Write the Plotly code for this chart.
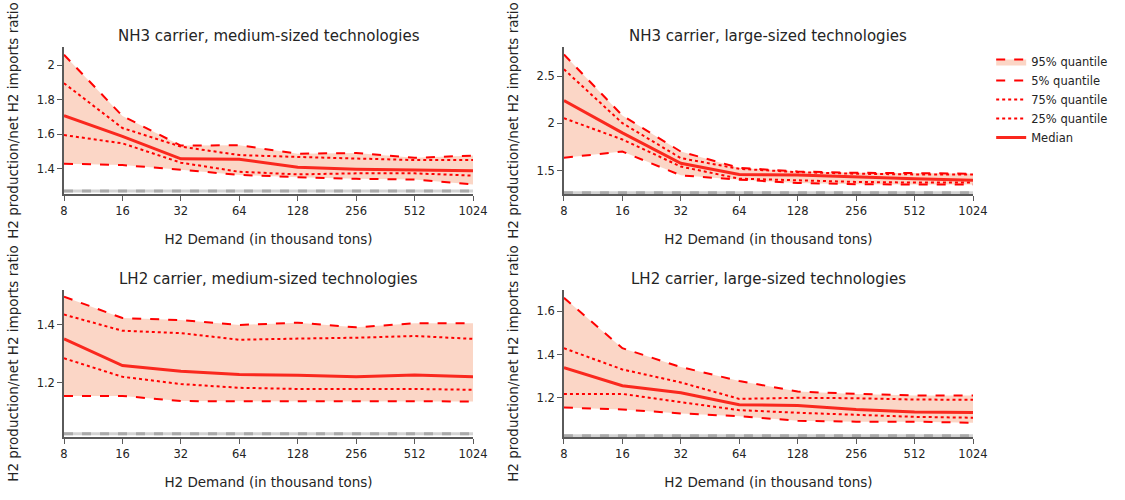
import plotly.graph_objects as go
from plotly.subplots import make_subplots

demand = [8, 16, 32, 64, 128, 256, 512, 1024]
tick_labels = ["8", "16", "32", "64", "128", "256", "512", "1024"]

titles = [
    "NH3 carrier, medium-sized technologies",
    "NH3 carrier, large-sized technologies",
    "LH2 carrier, medium-sized technologies",
    "LH2 carrier, large-sized technologies",
]

# NH3 medium
nh3_med_q95 = [2.06, 1.705, 1.533, 1.535, 1.486, 1.49, 1.462, 1.475]
nh3_med_q75 = [1.895, 1.635, 1.527, 1.478, 1.467, 1.456, 1.449, 1.449]
nh3_med_q50 = [1.707, 1.587, 1.456, 1.454, 1.407, 1.396, 1.391, 1.387]
nh3_med_q25 = [1.594, 1.546, 1.434, 1.381, 1.366, 1.372, 1.372, 1.359]
nh3_med_q05 = [1.428, 1.42, 1.393, 1.363, 1.35, 1.34, 1.336, 1.308]

# NH3 large
nh3_lrg_q95 = [2.728, 2.083, 1.703, 1.531, 1.493, 1.479, 1.476, 1.469]
nh3_lrg_q75 = [2.572, 2.003, 1.634, 1.521, 1.486, 1.469, 1.462, 1.462]
nh3_lrg_q50 = [2.241, 1.9, 1.579, 1.462, 1.455, 1.434, 1.417, 1.4]
nh3_lrg_q25 = [2.055, 1.831, 1.545, 1.417, 1.4, 1.383, 1.376, 1.376]
nh3_lrg_q05 = [1.638, 1.703, 1.452, 1.407, 1.372, 1.359, 1.355, 1.355]

# LH2 medium
lh2_med_q95 = [1.498, 1.424, 1.417, 1.4, 1.408, 1.392, 1.406, 1.406]
lh2_med_q75 = [1.436, 1.38, 1.372, 1.349, 1.353, 1.356, 1.362, 1.352]
lh2_med_q50 = [1.352, 1.26, 1.24, 1.229, 1.226, 1.221, 1.227, 1.221]
lh2_med_q25 = [1.285, 1.221, 1.196, 1.183, 1.179, 1.18, 1.179, 1.176]
lh2_med_q05 = [1.155, 1.155, 1.137, 1.137, 1.137, 1.136, 1.136, 1.136]

# LH2 large
lh2_lrg_q95 = [1.662, 1.429, 1.342, 1.278, 1.229, 1.218, 1.211, 1.211]
lh2_lrg_q75 = [1.429, 1.331, 1.271, 1.195, 1.2, 1.198, 1.192, 1.191]
lh2_lrg_q50 = [1.339, 1.256, 1.223, 1.168, 1.165, 1.146, 1.135, 1.132]
lh2_lrg_q25 = [1.218, 1.218, 1.18, 1.143, 1.131, 1.12, 1.112, 1.108]
lh2_lrg_q05 = [1.155, 1.146, 1.128, 1.115, 1.094, 1.09, 1.09, 1.085]

# grey reference levels
reference_levels = [1.269, 1.269, 1.024, 1.025]
y_ranges = [[1.252, 2.105], [1.255, 2.807], [1.013, 1.521], [1.019, 1.698]]

panels = [
    (nh3_med_q95, nh3_med_q75, nh3_med_q50, nh3_med_q25, nh3_med_q05),
    (nh3_lrg_q95, nh3_lrg_q75, nh3_lrg_q50, nh3_lrg_q25, nh3_lrg_q05),
    (lh2_med_q95, lh2_med_q75, lh2_med_q50, lh2_med_q25, lh2_med_q05),
    (lh2_lrg_q95, lh2_lrg_q75, lh2_lrg_q50, lh2_lrg_q25, lh2_lrg_q05),
]

FONT = "Verdana, DejaVu Sans, sans-serif"
RED = "rgb(255,0,0)"
FILL = "rgba(248,180,152,0.55)"

fig = make_subplots(rows=2, cols=2, subplot_titles=titles,
                    horizontal_spacing=0.1, vertical_spacing=0.246)

for i, (q95, q75, q50, q25, q05) in enumerate(panels):
    r, c = i // 2 + 1, i % 2 + 1
    first = i == 0
    ref = [reference_levels[i]] * len(demand)
    fig.add_trace(go.Scatter(x=demand, y=ref, mode="lines", showlegend=False,
                             line=dict(color="rgba(200,200,200,0.8)", width=3),
                             hoverinfo="skip"), row=r, col=c)
    fig.add_trace(go.Scatter(x=demand, y=ref, mode="lines", showlegend=False,
                             line=dict(color="rgba(165,165,165,0.9)", width=3, dash="dash"),
                             hoverinfo="skip"), row=r, col=c)
    fig.add_trace(go.Scatter(x=demand, y=q05, mode="lines", name="5% quantile",
                             showlegend=first, legendrank=2,
                             line=dict(color=RED, width=2, dash="dash")), row=r, col=c)
    fig.add_trace(go.Scatter(x=demand, y=q95, mode="lines", name="95% quantile",
                             showlegend=first, legendrank=1,
                             fill="tonexty", fillcolor=FILL,
                             line=dict(color=RED, width=2, dash="dash")), row=r, col=c)
    fig.add_trace(go.Scatter(x=demand, y=q75, mode="lines", name="75% quantile",
                             showlegend=first, legendrank=3,
                             line=dict(color=RED, width=2, dash="dot")), row=r, col=c)
    fig.add_trace(go.Scatter(x=demand, y=q25, mode="lines", name="25% quantile",
                             showlegend=first, legendrank=4,
                             line=dict(color=RED, width=2, dash="dot")), row=r, col=c)
    fig.add_trace(go.Scatter(x=demand, y=q50, mode="lines", name="Median",
                             showlegend=first, legendrank=5,
                             line=dict(color="rgb(250,40,30)", width=3)), row=r, col=c)
    fig.update_xaxes(type="log", range=[0.90309, 3.0103], tickvals=demand,
                     ticktext=tick_labels, title_text="H2 Demand (in thousand tons)",
                     row=r, col=c)
    fig.update_yaxes(range=y_ranges[i], title_text="H2 production/net H2 imports ratio",
                     row=r, col=c)

fig.update_xaxes(showline=True, linecolor="rgb(90,90,90)", linewidth=1.5, ticks="outside",
                 ticklen=5, tickcolor="rgb(90,90,90)", showgrid=False, zeroline=False,
                 tickfont=dict(size=11.5), title_font=dict(size=13.5), title_standoff=18)
fig.update_yaxes(showline=True, linecolor="rgb(90,90,90)", linewidth=1.5, ticks="outside",
                 ticklen=5, tickcolor="rgb(90,90,90)", showgrid=False, zeroline=False,
                 tickfont=dict(size=11.5), title_font=dict(size=13.5))
fig.update_annotations(font=dict(size=15, family=FONT, color="rgb(36,36,36)"))

fig.update_layout(
    template="simple_white",
    width=1125, height=500,
    margin=dict(l=64, r=141, t=47, b=51),
    font=dict(family=FONT, color="rgb(36,36,36)", size=12),
    plot_bgcolor="white", paper_bgcolor="white",
    legend=dict(font=dict(size=11.5), tracegroupgap=0, traceorder="normal"),
)

fig.write_html("out.html")
